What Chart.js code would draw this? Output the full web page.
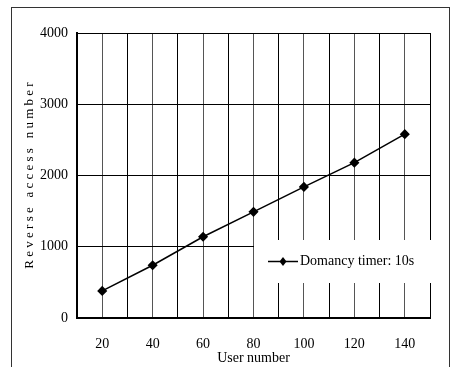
<!DOCTYPE html>
<html>
<head>
<meta charset="utf-8">
<script src="https://cdn.jsdelivr.net/npm/chart.js@4/dist/chart.umd.min.js"></script>
<style>
  html, body { margin: 0; padding: 0; background: #fff; }
  #wrap { position: relative; width: 452px; height: 367px; }
  #frame { position: absolute; left: 11px; top: 7px; width: 439px; height: 380px; border: 1.5px solid #333; box-sizing: border-box; }
  canvas { position: absolute; left: 0; top: 0; }
</style>
</head>
<body>
<div id="wrap">
  <div id="frame"></div>
  <canvas id="c" width="452" height="367"></canvas>
</div>
<script>
const userNumbers = [20, 40, 60, 80, 100, 120, 140];
const reverseAccess = [380, 740, 1140, 1490, 1840, 2180, 2580];
const seriesLabel = 'Domancy timer: 10s';
const xTickLabels = [20, 40, 60, 80, 100, 120, 140];
const yTickLabels = [0, 1000, 2000, 3000, 4000];
const xTitle = 'User number';
const yTitle = 'R e v e r s e   a c c e s s   n u m b e r';

const FONT = '"Liberation Serif", "DejaVu Serif", serif';

const legendPlugin = {
  id: 'boxLegend',
  afterDraw(chart) {
    const ctx = chart.ctx;
    const area = chart.chartArea;
    const ds = chart.data.datasets[0];
    const x0 = 254, y0 = 240, x1 = area.right + 2, y1 = 283;
    const cy = (y0 + y1) / 2;
    ctx.save();
    ctx.fillStyle = '#fff';
    ctx.fillRect(x0, y0, x1 - x0, y1 - y0);
    ctx.strokeStyle = '#000';
    ctx.lineWidth = 1.5;
    ctx.beginPath();
    ctx.moveTo(268, cy);
    ctx.lineTo(298, cy);
    ctx.stroke();
    ctx.fillStyle = '#000';
    ctx.beginPath();
    ctx.moveTo(283, cy - 4.5);
    ctx.lineTo(286.5, cy);
    ctx.lineTo(283, cy + 4.5);
    ctx.lineTo(279.5, cy);
    ctx.closePath();
    ctx.fill();
    ctx.font = '14px ' + FONT;
    ctx.letterSpacing = '0px';
    ctx.textBaseline = 'middle';
    ctx.textAlign = 'left';
    const w = ctx.measureText(ds.label).width;
    const extra = (114 - w) / Math.max(1, ds.label.length - 1);
    ctx.letterSpacing = Math.max(0, extra).toFixed(2) + 'px';
    ctx.fillText(ds.label, 300, cy);
    ctx.restore();
  }
};

new Chart(document.getElementById('c'), {
  type: 'line',
  data: {
    datasets: [{
      label: seriesLabel,
      data: userNumbers.map((u, i) => ({ x: u, y: reverseAccess[i] })),
      borderColor: '#000',
      backgroundColor: '#000',
      borderWidth: 1.5,
      pointStyle: 'rectRot',
      pointRadius: 4,
      pointBackgroundColor: '#000',
      pointBorderColor: '#000',
      tension: 0
    }]
  },
  options: {
    responsive: false,
    animation: false,
    layout: { padding: { left: 0, right: 22, top: 33, bottom: 0 } },
    plugins: { legend: { display: false }, tooltip: { enabled: false } },
    scales: {
      x: {
        type: 'linear',
        min: 10, max: 150,
        afterFit(s) { s.height = 49; },
        ticks: {
          stepSize: 10,
          padding: 18,
          color: '#000',
          font: { family: FONT, size: 14 },
          maxRotation: 0,
          autoSkip: false,
          callback: v => xTickLabels.includes(v) ? String(v) : ''
        },
        grid: {
          drawTicks: false,
          color: ctx => (ctx.tick && xTickLabels.includes(ctx.tick.value)) ? '#555' : '#000',
          lineWidth: 1
        },
        border: { color: '#000', width: 2 },
        title: {
          display: true, text: xTitle, color: '#000',
          font: { family: FONT, size: 14 },
          padding: { top: -4, bottom: 0 }
        }
      },
      y: {
        min: 0, max: 4000,
        afterFit(s) { s.width = 77; },
        ticks: {
          stepSize: 1000,
          padding: 9,
          color: '#000',
          font: { family: FONT, size: 14 },
          callback: v => yTickLabels.includes(v) ? String(v) : ''
        },
        grid: { drawTicks: false, color: '#000', lineWidth: 1 },
        border: { color: '#000', width: 2 },
        title: {
          display: true, text: yTitle, color: '#000',
          font: { family: FONT, size: 13 },
          padding: { top: 22, bottom: 0 }
        }
      }
    }
  },
  plugins: [legendPlugin]
});
</script>
</body>
</html>
